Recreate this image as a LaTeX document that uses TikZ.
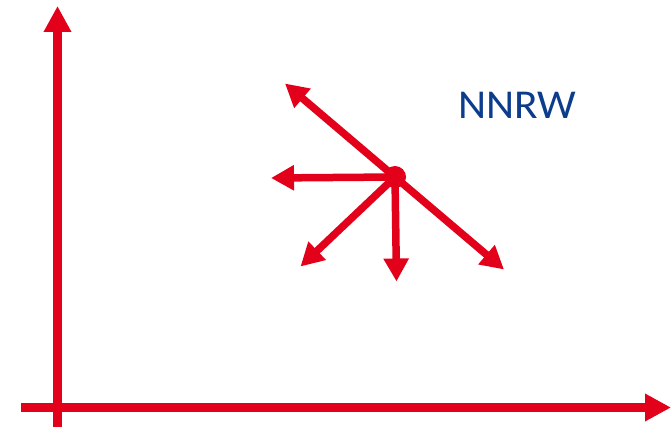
\documentclass[tikz,border=0pt]{standalone}
\usepackage{fontspec}
\setmainfont{Carlito}
\usetikzlibrary{arrows.meta}
\definecolor{axred}{HTML}{E2001A}
\definecolor{txtblue}{HTML}{0B3D8C}
\tikzset{
  axis/.style={draw=axred, line width=9pt, -{Triangle[length=26pt,width=26pt]}},
  ray/.style={draw=axred, line width=7.5pt, -{Triangle[length=23pt,width=24pt]}},
}
\begin{document}
\begin{tikzpicture}[x=1pt,y=-1pt]
\useasboundingbox (0,0) rectangle (671,427);
% axes
\coordinate (ybot) at (57.5,427);
\coordinate (ytop) at (57.5,6);
\coordinate (xleft) at (21,407.5);
\coordinate (xright) at (671,407.5);
\draw[axis] (ybot) -- (ytop);
\draw[axis] (xleft) -- (xright);
% star
\node[circle, fill=axred, minimum size=22pt, inner sep=0pt] (c) at (395,177) {};
\coordinate (ul) at (285,83.5);
\coordinate (l) at (271,178);
\coordinate (ll) at (300.5,266.5);
\coordinate (d) at (396.5,281.5);
\coordinate (lr) at (504,269.5);
\foreach \e in {ul,l,ll,d,lr} \draw[ray] (c.center) -- (\e);
\node[text=txtblue, font=\fontsize{41}{44}\selectfont, xscale=1.06, inner sep=0pt] (t) at (517,105) {NNRW};
\end{tikzpicture}
\end{document}
